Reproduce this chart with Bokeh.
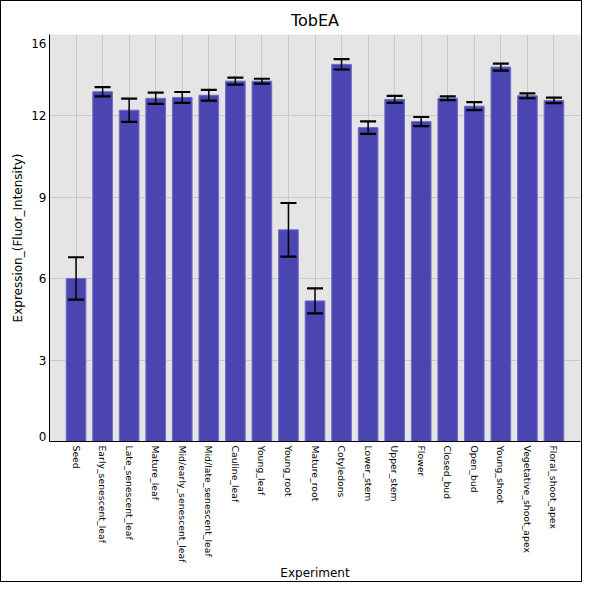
import math
from bokeh.plotting import figure
from bokeh.models import (ColumnDataSource, FactorRange, Range1d, FixedTicker, Whisker,
                          TeeHead, NumeralTickFormatter)
from bokeh.embed import file_html
from bokeh.resources import INLINE

categories = ["Seed", "Early_senescent_leaf", "Late_senescent_leaf", "Mature_leaf",
              "Mid/early_senescent_leaf", "Mid/late_senescent_leaf", "Cauline_leaf",
              "Young_leaf", "Young_root", "Mature_root", "Cotyledons", "Lower_stem",
              "Upper_stem", "Flower", "Closed_bud", "Open_bud", "Young_shoot",
              "Vegetative_shoot_apex", "Floral_shoot_apex"]
values = [6.01, 12.89, 12.21, 12.65, 12.68, 12.76, 13.28, 13.28, 7.80, 5.18,
          13.90, 11.57, 12.61, 11.79, 12.65, 12.36, 13.80, 12.74, 12.57]
errors = [0.78, 0.17, 0.43, 0.21, 0.20, 0.20, 0.13, 0.09, 0.99, 0.46,
          0.19, 0.23, 0.13, 0.17, 0.07, 0.15, 0.13, 0.09, 0.10]

y_ticks = [0.18, 3, 6, 9, 12, 14.65]
y_tick_labels = ["0", "3", "6", "9", "12", "16"]
y_grid = [3, 6, 9, 12]

FONT = "DejaVu Sans"

source = ColumnDataSource(data=dict(
    cat=categories,
    val=values,
    upper=[v + e for v, e in zip(values, errors)],
    lower=[v - e for v, e in zip(values, errors)],
))

p = figure(
    x_range=FactorRange(factors=categories, range_padding=0.5, range_padding_units="absolute"),
    y_range=Range1d(0, 15),
    width=582, height=582,
    output_backend="svg", toolbar_location=None,
    title="TobEA",
    min_border_left=48, min_border_right=3, min_border_top=33, min_border_bottom=142,
)
p.styles = {"border": "1px solid black"}

p.background_fill_color = "#e5e5e5"
p.border_fill_color = "white"
p.outline_line_color = None

p.title.align = "center"
p.title.text_font = FONT
p.title.text_font_size = "16px"
p.title.text_font_style = "normal"
p.title.text_color = "black"

p.vbar(x="cat", top="val", bottom=0, width=0.74, source=source,
       fill_color="#4a45b0", line_color="#716dc8", line_width=1)

w = Whisker(base="cat", upper="upper", lower="lower", source=source,
            dimension="height", line_color="black", line_width=1.5,
            upper_head=TeeHead(size=16, line_color="black", line_width=2.2),
            lower_head=TeeHead(size=16, line_color="black", line_width=2.2))
w.level = "overlay"
p.add_layout(w)

# grids
p.xgrid.grid_line_color = "#c9c9c9"
p.xgrid.grid_line_width = 1
p.ygrid.ticker = FixedTicker(ticks=y_grid)
p.ygrid.grid_line_color = "#c9c9c9"
p.ygrid.grid_line_width = 1

# y axis
p.yaxis.ticker = FixedTicker(ticks=y_ticks)
p.yaxis.formatter = NumeralTickFormatter(format="0")
p.yaxis.major_label_overrides = {t: l for t, l in zip(y_ticks, y_tick_labels)}
p.yaxis.axis_label = "Expression_(Fluor_Intensity)"
p.yaxis.axis_label_text_font = FONT
p.yaxis.axis_label_text_font_size = "12px"
p.yaxis.axis_label_text_font_style = "normal"
p.yaxis.axis_label_text_color = "black"
p.yaxis.axis_label_standoff = 3
p.yaxis.major_label_text_font = FONT
p.yaxis.major_label_text_font_size = "12px"
p.yaxis.major_label_text_color = "black"
p.yaxis.major_label_standoff = 3
p.yaxis.major_tick_out = 0
p.yaxis.major_tick_in = 0
p.yaxis.minor_tick_out = 0
p.yaxis.minor_tick_in = 0
p.yaxis.axis_line_color = "black"

# x axis
p.xaxis.axis_label = "Experiment"
p.xaxis.axis_label_text_font = FONT
p.xaxis.axis_label_text_font_size = "12px"
p.xaxis.axis_label_text_font_style = "normal"
p.xaxis.axis_label_text_color = "black"
p.xaxis.axis_label_standoff = 1
p.xaxis.major_label_text_font = FONT
p.xaxis.major_label_text_font_size = "9.3px"
p.xaxis.major_label_text_color = "black"
p.xaxis.major_label_orientation = -math.pi / 2
p.xaxis.major_label_standoff = 4
p.xaxis.major_tick_out = 0
p.xaxis.major_tick_in = 0
p.xaxis.axis_line_color = "black"

open("out.html", "w").write(file_html(p, INLINE))
